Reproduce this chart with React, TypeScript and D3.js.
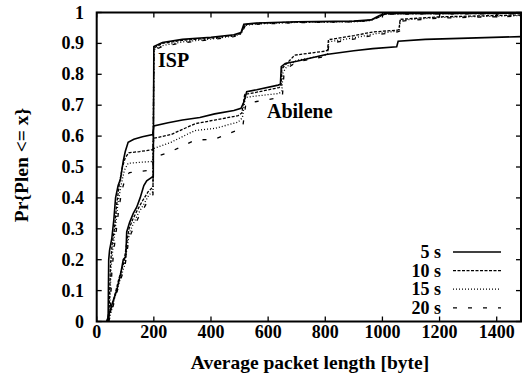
import React from "react";
import * as d3 from "d3";

// CDF of average packet length, [bytes, Pr]
const isp5 = [
  [35, 0], [42, 0.02], [55, 0.06], [70, 0.1], [85, 0.16], [93, 0.2], [102, 0.21], [105, 0.29],
  [115, 0.32], [128, 0.35], [140, 0.37], [152, 0.4], [165, 0.44], [175, 0.455], [190, 0.465],
  [198, 0.47], [200, 0.89], [230, 0.903], [300, 0.913], [400, 0.92], [480, 0.928], [505, 0.935],
  [515, 0.962], [560, 0.966], [700, 0.97], [900, 0.972], [960, 0.976], [990, 0.99], [1010, 0.997],
  [1485, 0.998],
];
const isp10 = [
  [38, 0], [48, 0.03], [62, 0.08], [78, 0.14], [95, 0.19], [106, 0.26], [113, 0.3], [126, 0.33],
  [142, 0.36], [160, 0.39], [180, 0.42], [197, 0.435], [200, 0.885], [230, 0.9], [300, 0.91],
  [400, 0.917], [480, 0.926], [505, 0.932], [517, 0.96], [560, 0.965], [700, 0.969], [900, 0.971],
  [960, 0.975], [995, 0.99], [1015, 0.996], [1485, 0.997],
];
const isp15 = [
  [40, 0], [50, 0.03], [64, 0.08], [80, 0.13], [97, 0.18], [108, 0.25], [116, 0.29], [130, 0.32],
  [146, 0.35], [165, 0.38], [183, 0.41], [197, 0.42], [200, 0.88], [230, 0.893], [300, 0.905],
  [400, 0.914], [480, 0.924], [505, 0.93], [518, 0.958], [560, 0.963], [700, 0.968], [900, 0.97],
  [960, 0.974], [995, 0.989], [1015, 0.995], [1485, 0.997],
];
const isp20 = [
  [42, 0], [52, 0.03], [66, 0.08], [82, 0.13], [99, 0.18], [110, 0.25], [118, 0.28], [132, 0.31],
  [148, 0.34], [167, 0.37], [185, 0.4], [197, 0.41], [200, 0.878], [230, 0.89], [300, 0.902],
  [400, 0.912], [480, 0.922], [505, 0.93], [520, 0.957], [560, 0.962], [700, 0.967], [900, 0.97],
  [960, 0.974], [995, 0.988], [1015, 0.995], [1485, 0.996],
];
const abilene5 = [
  [35, 0], [40, 0.01], [42, 0.2], [45, 0.23], [53, 0.27], [60, 0.33], [66, 0.4], [75, 0.44],
  [83, 0.46], [93, 0.52], [100, 0.55], [110, 0.58], [130, 0.59], [160, 0.598], [196, 0.605],
  [200, 0.633], [250, 0.643], [300, 0.652], [361, 0.66], [413, 0.672], [480, 0.683], [505, 0.69],
  [515, 0.71], [525, 0.744], [560, 0.75], [635, 0.765], [643, 0.768], [646, 0.825], [660, 0.835],
  [700, 0.842], [803, 0.864], [900, 0.876], [966, 0.883], [1050, 0.889], [1055, 0.907],
  [1150, 0.913], [1300, 0.917], [1485, 0.922],
];
const abilene10 = [
  [38, 0], [44, 0.05], [48, 0.18], [54, 0.25], [62, 0.3], [70, 0.38], [80, 0.45], [90, 0.5],
  [100, 0.53], [112, 0.546], [150, 0.55], [196, 0.556], [200, 0.593], [260, 0.605], [344, 0.64],
  [413, 0.652], [495, 0.666], [508, 0.675], [518, 0.735], [560, 0.742], [638, 0.757], [645, 0.762],
  [648, 0.818], [660, 0.83], [693, 0.862], [800, 0.875], [808, 0.878], [811, 0.912], [900, 0.925],
  [966, 0.937], [1053, 0.943], [1058, 0.945], [1062, 0.978], [1200, 0.986], [1485, 0.992],
];
const abilene15 = [
  [40, 0], [46, 0.05], [50, 0.17], [57, 0.24], [65, 0.3], [74, 0.38], [85, 0.44], [97, 0.49],
  [110, 0.512], [150, 0.515], [196, 0.518], [200, 0.56], [260, 0.58], [344, 0.618], [413, 0.625],
  [495, 0.645], [510, 0.66], [520, 0.725], [560, 0.73], [638, 0.738], [648, 0.745], [652, 0.805],
  [665, 0.825], [700, 0.845], [800, 0.862], [808, 0.866], [812, 0.905], [900, 0.918],
  [980, 0.932], [1053, 0.94], [1058, 0.942], [1063, 0.975], [1200, 0.984], [1485, 0.99],
];
const abilene20 = [
  [42, 0], [48, 0.05], [53, 0.16], [60, 0.23], [68, 0.29], [78, 0.37], [90, 0.43], [102, 0.47],
  [115, 0.482], [150, 0.486], [196, 0.49], [200, 0.531], [260, 0.55], [344, 0.587], [413, 0.59],
  [495, 0.62], [512, 0.635], [522, 0.705], [560, 0.712], [638, 0.724], [650, 0.73], [655, 0.795],
  [668, 0.82], [700, 0.84], [800, 0.858], [808, 0.862], [813, 0.9], [900, 0.914],
  [980, 0.928], [1053, 0.937], [1060, 0.94], [1065, 0.972], [1200, 0.982], [1485, 0.988],
];

const xTicks = [0, 200, 400, 600, 800, 1000, 1200, 1400];
const yTicks = [0, 0.1, 0.2, 0.3, 0.4, 0.5, 0.6, 0.7, 0.8, 0.9, 1];
const legendLabels = ["5 s", "10 s", "15 s", "20 s"];

const dashes = [null, "3,1.5", "1,2", "4,11"];
const series = [
  { data: isp5, style: 0 }, { data: isp10, style: 1 }, { data: isp15, style: 2 }, { data: isp20, style: 3 },
  { data: abilene5, style: 0 }, { data: abilene10, style: 1 }, { data: abilene15, style: 2 }, { data: abilene20, style: 3 },
];

const W = 529;
const H = 380;
const m = { left: 96.7, right: 521, top: 12.5, bottom: 321.5 };
const font = "'Liberation Serif', serif";

export default function App() {
  const x = d3.scaleLinear().domain([0, 1485]).range([m.left, m.right]);
  const y = d3.scaleLinear().domain([0, 1]).range([m.bottom, m.top]);
  const line = d3.line<number[]>().x((d) => x(d[0])).y((d) => y(d[1]));

  return (
    <svg width={W} height={H} style={{ position: "absolute", left: 0, top: 0, background: "#fff" }}>
      <rect x={0} y={0} width={W} height={H} fill="#fff" />
      <g>
        {series.map((s, i) => (
          <path
            key={i}
            d={line(s.data) || ""}
            fill="none"
            stroke="#000"
            strokeWidth={s.style === 0 ? 1.6 : 1.3}
            strokeDasharray={dashes[s.style] || undefined}
          />
        ))}
      </g>
      {/* frame and ticks */}
      <rect
        x={m.left}
        y={m.top}
        width={m.right - m.left}
        height={m.bottom - m.top}
        fill="none"
        stroke="#000"
        strokeWidth={2}
      />
      {xTicks.map((t) => (
        <g key={"x" + t}>
          <line x1={x(t)} x2={x(t)} y1={m.bottom} y2={m.bottom - 5} stroke="#000" strokeWidth={1.3} />
          <line x1={x(t)} x2={x(t)} y1={m.top} y2={m.top + 5} stroke="#000" strokeWidth={1.3} />
          <text x={x(t)} y={338} textAnchor="middle" fontFamily={font} fontWeight="bold" fontSize={18}>
            {t}
          </text>
        </g>
      ))}
      {yTicks.map((t) => (
        <g key={"y" + t}>
          <line x1={m.left} x2={m.left + 5} y1={y(t)} y2={y(t)} stroke="#000" strokeWidth={1.3} />
          <line x1={m.right} x2={m.right - 5} y1={y(t)} y2={y(t)} stroke="#000" strokeWidth={1.3} />
          <text x={84} y={y(t) + 6} textAnchor="end" fontFamily={font} fontWeight="bold" fontSize={18}>
            {t === 0 || t === 1 ? String(t) : t.toFixed(1)}
          </text>
        </g>
      ))}
      <text x={310} y={369} textAnchor="middle" fontFamily={font} fontWeight="bold" fontSize={19.5}>
        Average packet length [byte]
      </text>
      <text
        transform="translate(28,165) rotate(-90)"
        textAnchor="middle"
        fontFamily={font}
        fontWeight="bold"
        fontSize={19.5}
      >
        {"Pr{Plen <= x}"}
      </text>
      <text x={158} y={67} fontFamily={font} fontWeight="bold" fontSize={20}>
        ISP
      </text>
      <text x={267} y={118} fontFamily={font} fontWeight="bold" fontSize={20}>
        Abilene
      </text>
      {/* legend */}
      {legendLabels.map((l, i) => {
        const yy = 252 + i * 18.6;
        return (
          <g key={l}>
            <text x={441} y={yy + 6} textAnchor="end" fontFamily={font} fontWeight="bold" fontSize={18}>
              {l}
            </text>
            <line
              x1={453}
              x2={501}
              y1={yy}
              y2={yy}
              stroke="#000"
              strokeWidth={i === 0 ? 1.6 : 1.3}
              strokeDasharray={dashes[i] || undefined}
            />
          </g>
        );
      })}
    </svg>
  );
}
